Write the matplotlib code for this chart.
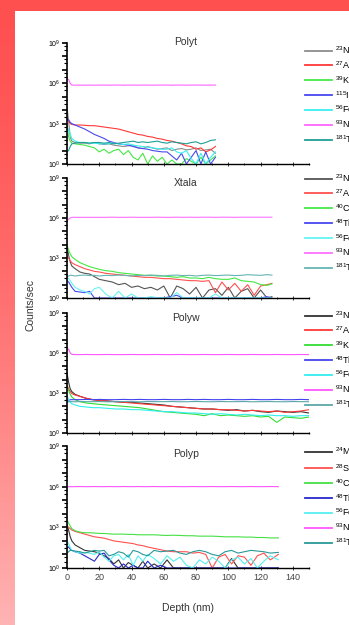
import numpy as np
import matplotlib.pyplot as plt
from matplotlib.ticker import FixedLocator, FuncFormatter, MultipleLocator

plt.rcParams['font.family'] = ['Liberation Sans', 'DejaVu Sans']
plt.rcParams['mathtext.fontset'] = 'custom'
plt.rcParams['mathtext.rm'] = 'Liberation Sans'
plt.rcParams['mathtext.it'] = 'Liberation Sans:italic'
plt.rcParams['mathtext.bf'] = 'Liberation Sans:bold'

# ---- data: log10(counts/sec) ----
polyt_depth = [0, 1, 2, 3, 5, 8, 11, 14, 17, 20, 23, 26, 29, 32, 35, 38, 41, 44, 47, 50,
               53, 56, 59, 62, 65, 68, 71, 74, 77, 80, 83, 86, 89, 92]
polyt_na = [4.3, 3.2, 2.0, 1.7, 1.6, 1.55, 1.55, 1.5, 1.6, 1.5, 1.45, 1.5, 1.4, 1.35, 1.3, 1.35, 1.4,
            1.2, 1.15, 1.3, 1.2, 1.1, 1.15, 1.2, 1.0, 1.1, 1.15, 1.05, 1.1, 1.2, 1.0, 1.05, 1.1, 0.8]
polyt_al = [3.4, 3.2, 3.0, 2.95, 2.9, 2.9, 2.88, 2.85, 2.85, 2.8, 2.75, 2.7, 2.65, 2.6, 2.5, 2.4, 2.3,
            2.2, 2.15, 2.05, 2.0, 1.9, 1.85, 1.75, 1.7, 1.6, 1.5, 1.35, 1.3, 1.1, 1.2, 0.9, 1.05, 1.3]
polyt_k = [3.0, 2.0, 1.7, 1.55, 1.5, 1.45, 1.4, 1.3, 1.2, 0.9, 1.1, 0.8, 1.0, 1.1, 0.7, 1.0, 0.5,
           0.3, 0.8, 0.0, 0.6, 0.2, 0.5, 0.0, 0.3, 0.0, 0.0, 0.4, 0.2, 0.0, 0.5, 0.0, 0.3, 0.6]
polyt_in = [3.3, 3.3, 3.1, 3.0, 2.9, 2.75, 2.6, 2.4, 2.2, 2.05, 1.9, 1.7, 1.6, 1.5, 1.45, 1.4, 1.3,
            1.2, 1.15, 1.1, 1.0, 0.95, 0.9, 0.9, 0.6, 0.3, 0.8, 0.0, 0.5, 1.0, 0.0, 0.9, 0.0, 0.5]
polyt_fe = [2.3, 2.6, 2.2, 1.9, 1.7, 1.6, 1.6, 1.55, 1.55, 1.5, 1.5, 1.5, 1.55, 1.5, 1.45, 1.5, 1.4,
            1.35, 1.3, 1.25, 1.2, 1.15, 1.1, 1.1, 1.2, 0.9, 0.8, 1.0, 0.4, 0.0, 0.8, 0.0, 0.5, 0.9]
polyt_nb = [6.3, 6.3, 6.0, 5.87, 5.86, 5.87, 5.86, 5.87, 5.86, 5.87, 5.87, 5.86, 5.87, 5.87, 5.86,
            5.87, 5.87, 5.86, 5.87, 5.87, 5.86, 5.87, 5.87, 5.87, 5.86, 5.87, 5.87, 5.86, 5.87,
            5.87, 5.87, 5.86, 5.87, 5.87]
polyt_ta = [0.9, 1.0, 1.3, 1.5, 1.55, 1.6, 1.6, 1.55, 1.6, 1.6, 1.55, 1.6, 1.5, 1.55, 1.6, 1.65, 1.7,
            1.6, 1.65, 1.6, 1.65, 1.7, 1.6, 1.55, 1.65, 1.6, 1.55, 1.5, 1.6, 1.65, 1.5, 1.6, 1.75, 1.8]

xtala_depth = [0, 1, 2, 3, 5, 8, 11, 14, 17, 20, 24, 28, 32, 36, 40, 44, 48, 52, 56, 60, 64, 68,
               72, 76, 80, 84, 88, 92, 96, 100, 104, 108, 112, 116, 120, 124, 127]
xtala_na = [4.0, 3.2, 2.7, 2.4, 2.2, 1.95, 1.85, 1.8, 1.6, 1.4, 1.3, 1.2, 1.0, 1.1, 0.8, 0.9, 0.7,
            0.8, 0.6, 0.9, 0.0, 0.9, 0.7, 0.3, 0.8, 0.0, 0.6, 0.7, 0.2, 0.8, 0.0, 0.5, 0.7, 0.0,
            0.6, 0.0, 0.1]
xtala_al = [3.1, 3.0, 2.8, 2.65, 2.5, 2.35, 2.2, 2.1, 2.0, 1.95, 1.85, 1.8, 1.75, 1.7, 1.65, 1.6,
            1.55, 1.55, 1.5, 1.45, 1.45, 1.4, 1.35, 1.3, 1.3, 1.25, 1.3, 0.4, 1.2, 0.6, 1.1, 0.5,
            1.0, 0.2, 0.9, 1.0, 1.1]
xtala_ca = [4.0, 3.6, 3.3, 3.1, 2.9, 2.65, 2.5, 2.35, 2.25, 2.15, 2.05, 2.0, 1.9, 1.85, 1.8, 1.75,
            1.7, 1.7, 1.65, 1.65, 1.6, 1.55, 1.6, 1.5, 1.5, 1.45, 1.55, 1.45, 1.4, 1.4, 1.5, 1.3,
            1.25, 1.2, 1.0, 0.95, 1.05]
xtala_ti = [1.3, 1.2, 1.0, 0.8, 0.5, 0.45, 0.4, 0.5, 0.0, 0.0, 0.0, 0.0, 0.0, 0.0, 0.0, 0.0, 0.0,
            0.0, 0.0, 0.0, 0.1, 0.2, 0.0, 0.0, 0.0, 0.0, 0.0, 0.0, 0.0, 0.0, 0.0, 0.0, 0.0, 0.0,
            0.0, 0.1, 0.0]
xtala_fe = [1.5, 1.45, 1.3, 1.1, 0.8, 0.6, 0.5, 0.3, 0.7, 0.8, 0.3, 0.0, 0.5, 0.0, 0.3, 0.0, 0.0,
            0.1, 0.0, 0.0, 0.0, 0.4, 0.0, 0.0, 0.0, 0.0, 0.0, 0.3, 0.0, 0.0, 0.0, 0.0, 0.0, 0.0,
            0.0, 0.0, 0.0]
xtala_nb = [5.8, 5.9, 6.0, 6.05, 6.05, 6.05, 6.05, 6.05, 6.05, 6.05, 6.05, 6.06, 6.05, 6.05, 6.06,
            6.05, 6.05, 6.05, 6.06, 6.05, 6.05, 6.06, 6.05, 6.06, 6.05, 6.06, 6.06, 6.05, 6.06,
            6.06, 6.05, 6.06, 6.06, 6.06, 6.06, 6.06, 6.06]
xtala_ta = [1.6, 1.65, 1.7, 1.7, 1.65, 1.7, 1.72, 1.68, 1.7, 1.65, 1.7, 1.68, 1.72, 1.7, 1.65, 1.7,
            1.68, 1.72, 1.7, 1.65, 1.7, 1.72, 1.68, 1.7, 1.65, 1.7, 1.72, 1.68, 1.7, 1.72, 1.68,
            1.7, 1.75, 1.72, 1.7, 1.75, 1.72]

polyw_depth = [0, 1, 2, 3, 5, 8, 12, 16, 20, 25, 30, 35, 40, 45, 50, 55, 60, 65, 70, 75, 80, 85,
               90, 95, 100, 105, 110, 115, 120, 125, 130, 135, 140, 145, 150]
polyw_na = [4.5, 3.8, 3.3, 3.1, 2.9, 2.75, 2.6, 2.5, 2.45, 2.4, 2.35, 2.3, 2.3, 2.25, 2.2, 2.15,
            2.1, 2.0, 1.95, 1.9, 1.85, 1.8, 1.8, 1.75, 1.7, 1.75, 1.65, 1.7, 1.6, 1.55, 1.65, 1.6,
            1.55, 1.6, 1.5]
polyw_al = [3.6, 3.3, 3.1, 2.95, 2.85, 2.75, 2.6, 2.5, 2.45, 2.4, 2.35, 2.3, 2.25, 2.2, 2.15, 2.1,
            2.05, 2.0, 1.95, 1.9, 1.85, 1.8, 1.8, 1.75, 1.75, 1.7, 1.65, 1.7, 1.65, 1.6, 1.65, 1.55,
            1.6, 1.65, 1.75]
polyw_k = [3.5, 3.2, 2.9, 2.7, 2.5, 2.35, 2.25, 2.2, 2.15, 2.1, 2.05, 2.0, 1.95, 1.9, 1.8, 1.7,
           1.6, 1.55, 1.5, 1.45, 1.4, 1.3, 1.45, 1.3, 1.35, 1.3, 1.25, 1.3, 1.2, 1.25, 0.8, 1.2,
           1.15, 1.1, 1.2]
polyw_ti = [2.3, 2.4, 2.5, 2.5, 2.5, 2.5, 2.52, 2.5, 2.52, 2.5, 2.5, 2.52, 2.5, 2.52, 2.5, 2.5,
            2.52, 2.5, 2.5, 2.52, 2.5, 2.52, 2.5, 2.5, 2.52, 2.5, 2.5, 2.52, 2.5, 2.5, 2.52, 2.5,
            2.5, 2.52, 2.5]
polyw_fe = [2.8, 2.5, 2.3, 2.2, 2.1, 2.0, 1.95, 1.9, 1.9, 1.85, 1.8, 1.8, 1.75, 1.75, 1.7, 1.65,
            1.6, 1.6, 1.55, 1.5, 1.5, 1.45, 1.4, 1.45, 1.4, 1.35, 1.4, 1.35, 1.3, 1.35, 1.3, 1.3,
            1.25, 1.3, 1.3]
polyw_nb = [6.2, 6.3, 6.0, 5.9, 5.88, 5.88, 5.89, 5.88, 5.88, 5.89, 5.88, 5.88, 5.89, 5.88, 5.88,
            5.89, 5.88, 5.88, 5.89, 5.88, 5.88, 5.89, 5.88, 5.88, 5.89, 5.88, 5.88, 5.89, 5.88,
            5.88, 5.89, 5.88, 5.88, 5.89, 5.88]
polyw_ta = [2.35, 2.35, 2.36, 2.35, 2.34, 2.36, 2.35, 2.35, 2.36, 2.34, 2.35, 2.36, 2.35, 2.34,
            2.36, 2.35, 2.35, 2.36, 2.34, 2.35, 2.36, 2.35, 2.34, 2.36, 2.35, 2.35, 2.36, 2.34,
            2.35, 2.36, 2.35, 2.34, 2.36, 2.35, 2.35]

polyp_depth = [0, 1, 2, 3, 5, 8, 11, 14, 17, 20, 23, 26, 29, 32, 35, 38, 41, 44, 47, 50, 54, 58,
               62, 66, 70, 74, 78, 82, 86, 90, 94, 98, 102, 106, 110, 114, 118, 122, 126, 131]
polyp_mg = [3.2, 2.8, 2.3, 2.0, 1.7, 1.5, 1.3, 1.25, 1.2, 1.1, 0.9, 0.7, 0.3, 0.6, 0.0, 0.4, 0.2,
            0.0, 0.5, 0.0, 0.3, 0.0, 0.6, 0.0, 0.0, 0.0, 0.0, 0.0, 0.0, 0.0, 0.0, 0.0, 0.7, 0.0,
            0.0, 0.0, 0.0, 0.0, 0.0, 0.0]
polyp_si = [3.1, 3.0, 2.9, 2.8, 2.7, 2.6, 2.5, 2.4, 2.3, 2.25, 2.2, 2.1, 2.0, 1.95, 1.9, 1.85, 1.8,
            1.7, 1.65, 1.55, 1.45, 1.35, 1.25, 1.2, 1.2, 1.2, 1.1, 1.15, 1.0, 0.0, 0.8, 1.0, 0.3,
            0.9, 0.8, 0.2, 0.9, 1.1, 0.6, 1.0]
polyp_ca = [3.6, 3.3, 3.1, 2.9, 2.75, 2.65, 2.6, 2.6, 2.58, 2.55, 2.55, 2.52, 2.5, 2.5, 2.5, 2.48,
            2.48, 2.45, 2.45, 2.45, 2.45, 2.42, 2.4, 2.42, 2.4, 2.38, 2.38, 2.35, 2.35, 2.35, 2.33,
            2.3, 2.3, 2.3, 2.28, 2.28, 2.25, 2.25, 2.22, 2.22]
polyp_ti = [1.5, 1.55, 1.4, 1.3, 1.2, 1.1, 0.9, 0.7, 0.5, 1.0, 1.1, 0.6, 0.2, 0.0, 0.3, 0.0, 0.2,
            0.0, 0.0, 0.5, 0.0, 0.2, 0.0, 0.0, 0.0, 0.0, 0.0, 0.0, 0.0, 0.0, 0.0, 0.0, 0.0, 0.0,
            0.0, 0.0, 0.0, 0.0, 0.0, 0.0]
polyp_fe = [2.0, 1.8, 1.5, 1.3, 1.2, 1.1, 1.15, 1.1, 1.0, 1.2, 0.8, 0.5, 0.9, 1.0, 0.6, 1.0, 0.2,
            0.9, 0.5, 1.0, 0.7, 0.3, 0.9, 0.5, 0.8, 0.2, 0.0, 0.6, 0.3, 0.8, 0.5, 0.0, 0.6, 0.8,
            0.3, 0.7, 0.0, 0.5, 0.9, 0.6]
polyp_nb = [5.95, 6.0, 6.0, 6.0, 6.0, 6.01, 6.0, 6.0, 6.01, 6.0, 6.0, 6.01, 6.0, 6.0, 6.01, 6.0,
            6.0, 6.01, 6.0, 6.0, 6.01, 6.0, 6.0, 6.01, 6.0, 6.0, 6.01, 6.0, 6.0, 6.01, 6.0, 6.0,
            6.01, 6.0, 6.0, 6.01, 6.0, 6.0, 6.01, 6.0]
polyp_ta = [1.1, 1.2, 1.3, 1.3, 1.25, 1.2, 1.1, 1.2, 1.3, 1.25, 1.3, 0.9, 1.0, 1.2, 1.1, 0.8, 1.3,
            1.2, 1.0, 0.9, 1.3, 1.2, 1.25, 1.3, 1.1, 1.0, 1.2, 1.3, 1.2, 1.0, 0.9, 1.2, 1.3, 1.1,
            1.2, 1.3, 1.25, 1.2, 1.1, 1.15]

polyt_labels = [r'$^{23}$Na', r'$^{27}$Al', r'$^{39}$K', r'$^{115}$In', r'$^{56}$Fe', r'$^{93}$Nb', r'$^{181}$Ta']
xtala_labels = [r'$^{23}$Na', r'$^{27}$Al', r'$^{40}$Ca', r'$^{48}$Ti', r'$^{56}$Fe', r'$^{93}$Nb', r'$^{181}$Ta']
polyw_labels = [r'$^{23}$Na', r'$^{27}$Al', r'$^{39}$K', r'$^{48}$Ti', r'$^{56}$Fe', r'$^{93}$Nb', r'$^{181}$Ta']
polyp_labels = [r'$^{24}$Mg', r'$^{28}$Si', r'$^{40}$Ca', r'$^{48}$Ti', r'$^{56}$Fe', r'$^{93}$Nb', r'$^{181}$Ta']

panels = [
    ('Polyt', polyt_depth, [polyt_na, polyt_al, polyt_k, polyt_in, polyt_fe, polyt_nb, polyt_ta], polyt_labels,
     ['#8c8c8c', '#ff3838', '#44e844', '#4848f0', '#38f0f0', '#ff66ff', '#1e9e96']),
    ('Xtala', xtala_depth, [xtala_na, xtala_al, xtala_ca, xtala_ti, xtala_fe, xtala_nb, xtala_ta], xtala_labels,
     ['#555555', '#ff5050', '#44e844', '#4848f0', '#66f4f4', '#ff70ff', '#66b4b4']),
    ('Polyw', polyw_depth, [polyw_na, polyw_al, polyw_k, polyw_ti, polyw_fe, polyw_nb, polyw_ta], polyw_labels,
     ['#333333', '#ff3838', '#33dd33', '#4444ee', '#33eeee', '#ff55ff', '#5aa8a8']),
    ('Polyp', polyp_depth, [polyp_mg, polyp_si, polyp_ca, polyp_ti, polyp_fe, polyp_nb, polyp_ta], polyp_labels,
     ['#333333', '#ff5050', '#44e044', '#2828cc', '#55f0f0', '#ff55ff', '#2a9898']),
]

W, H = 349, 625
fig = plt.figure(figsize=(W / 100, H / 100), dpi=100)

# slide background: red band on top, red-to-pink strip on the left
bg = fig.add_axes([0, 0, 1, 1], zorder=-10)
img = np.ones((H, W, 3))
rows = np.arange(H) / (H - 1)
shade = (80 + 100 * rows ** 1.5) / 255
img[:, :15, 1] = shade[:, None]
img[:, :15, 2] = shade[:, None]
img[:11, :, 1] = 80 / 255
img[:11, :, 2] = 80 / 255
bg.imshow(img, aspect='auto', interpolation='nearest', extent=[0, 1, 0, 1])
bg.axis('off')

ax_px = [(43, 164), (178, 298), (313, 433), (446, 568)]
title_y = [1.005, 0.96, 0.955, 0.935]
legend_top = [44, 172, 309, 445]
x0, x1 = 67, 309

for i, (name, depth, series, labels, colors) in enumerate(panels):
    top, bot = ax_px[i]
    ax = fig.add_axes([x0 / W, 1 - bot / H, (x1 - x0) / W, (bot - top) / H])
    d = np.array(depth)
    handles = []
    for vals, lab, col in zip(series, labels, colors):
        ln, = ax.plot(d, 10 ** np.array(vals), color=col, lw=0.8, label=lab)
        handles.append(ln)
    ax.set_yscale('log')
    ax.set_ylim(1, 1e9)
    ax.set_xlim(0, 150)
    for s in ['top', 'right']:
        ax.spines[s].set_visible(False)
    ax.spines['left'].set_linewidth(1.2)
    ax.spines['bottom'].set_linewidth(1.0)
    ax.yaxis.set_major_locator(FixedLocator(10.0 ** np.arange(10)))
    ax.yaxis.set_minor_locator(FixedLocator([m * 10.0 ** e for e in range(9) for m in (3, 6)]))
    ax.yaxis.set_major_formatter(FuncFormatter(
        lambda v, p: r'$10^{%d}$' % round(np.log10(v)) if round(np.log10(v)) % 3 == 0 else ''))
    ax.xaxis.set_major_locator(MultipleLocator(20))
    ax.xaxis.set_minor_locator(MultipleLocator(10))
    ax.tick_params(axis='y', which='major', direction='out', length=3.5, width=1.2, labelsize=5, pad=1)
    ax.tick_params(axis='y', which='minor', direction='out', length=2, width=0.8)
    ax.tick_params(axis='x', which='major', direction='inout', length=3, width=0.7, labelsize=6.5, pad=2,
                   colors='#333333', labelcolor='#444444')
    ax.tick_params(axis='x', which='minor', direction='inout', length=2, width=0.6)
    if i < 3:
        ax.tick_params(axis='x', labelbottom=False)
    ax.text(0.49, title_y[i], name, transform=ax.transAxes, ha='center', va='center',
            fontsize=7.5, color='#333333')
    leg = fig.legend(handles=handles, loc='upper left',
                     bbox_to_anchor=(305 / W, 1 - legend_top[i] / H),
                     frameon=False, fontsize=6.5, handlelength=3.0, handletextpad=0.3,
                     labelspacing=0.36, borderpad=0, borderaxespad=0)
    for lh in leg.get_lines():
        lh.set_linewidth(1.3)

fig.text(31 / W, 1 - 305 / H, 'Counts/sec', rotation=90, ha='center', va='center',
         fontsize=7.5, color='#333333')
fig.text(188 / W, 1 - 608 / H, 'Depth (nm)', ha='center', va='center', fontsize=7.5, color='#333333')

fig.savefig('out.png', dpi=100)
